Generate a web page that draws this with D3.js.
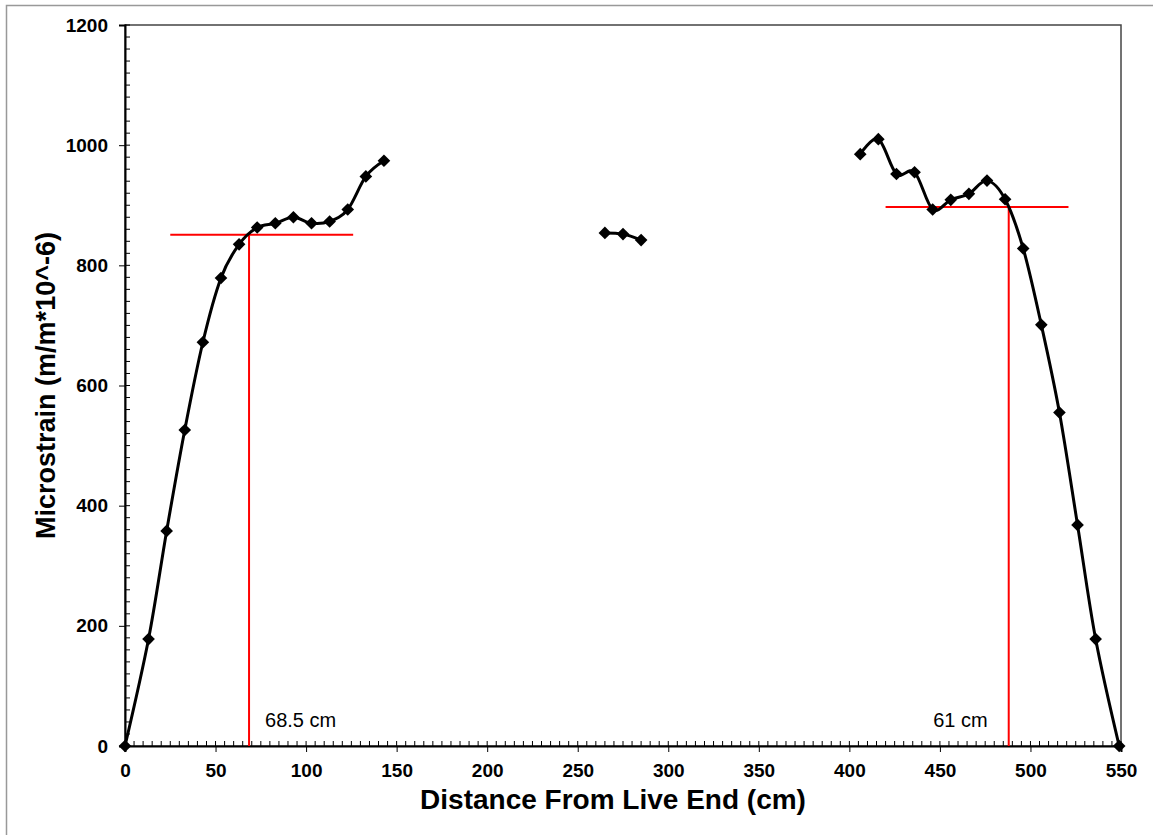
<!DOCTYPE html>
<html>
<head>
<meta charset="utf-8">
<script src="https://cdn.jsdelivr.net/npm/d3@7"></script>
<style>
  html, body { margin: 0; padding: 0; background: #fff; }
  svg { display: block; font-family: "Liberation Sans", Arial, sans-serif; }
</style>
</head>
<body>
<svg id="chart" width="1153" height="835"></svg>
<script>
// --- data ---
const leftX  = [0, 13, 23, 33, 43, 53, 63, 73, 83, 93, 103, 113, 123, 133, 143];
const leftY  = [0, 178, 358, 526, 672, 779, 835, 863, 870, 880, 870, 873, 893, 948, 974];
const midX   = [265, 275, 285];
const midY   = [854, 852, 842];
const rightX = [406, 416, 426, 436, 446, 456, 466, 476, 486, 496, 506, 516, 526, 536, 549];
const rightY = [985, 1010, 952, 955, 893, 909, 919, 941, 910, 828, 701, 555, 368, 178, 0];

const xTicks = [0, 50, 100, 150, 200, 250, 300, 350, 400, 450, 500, 550];
const yTicks = [0, 200, 400, 600, 800, 1000, 1200];

// red transfer-length guides
const guideLeft  = { x: 68.5, y: 851, h0: 25, h1: 126, label: '68.5 cm' };
const guideRight = { x: 488, y: 897, h0: 420, h1: 521, label: '61 cm' };

const svg = d3.select('#chart');
const M = { left: 125, right: 1121, top: 25, bottom: 746 };

const x = d3.scaleLinear().domain([0, 550]).range([M.left, M.right]);
const y = d3.scaleLinear().domain([0, 1200]).range([M.bottom, M.top]);

// outer chart frame
svg.append('rect')
  .attr('x', 6.5).attr('y', 5.5).attr('width', 1160).attr('height', 850)
  .attr('fill', 'none').attr('stroke', '#999').attr('stroke-width', 1.5);

// plot area border
svg.append('rect')
  .attr('x', M.left).attr('y', M.top)
  .attr('width', M.right - M.left).attr('height', M.bottom - M.top)
  .attr('fill', 'none').attr('stroke', '#444').attr('stroke-width', 1.5);

// minor ticks (inside)
const g = svg.append('g');
g.selectAll('line.xminor')
  .data(d3.range(0, 551, 5))
  .join('line')
  .attr('x1', d => x(d)).attr('x2', d => x(d))
  .attr('y1', M.bottom).attr('y2', M.bottom - 5)
  .attr('stroke', '#000').attr('stroke-width', 1);
g.selectAll('line.yminor')
  .data(d3.range(0, 1201, 20))
  .join('line')
  .attr('x1', M.left).attr('x2', M.left + 5)
  .attr('y1', d => y(d)).attr('y2', d => y(d))
  .attr('stroke', '#000').attr('stroke-width', 1);

// axes
const xAxis = svg.append('g')
  .attr('transform', `translate(0,${M.bottom})`)
  .call(d3.axisBottom(x).tickValues(xTicks).tickSize(6).tickPadding(12).tickFormat(d3.format('d')));
const yAxis = svg.append('g')
  .attr('transform', `translate(${M.left},0)`)
  .call(d3.axisLeft(y).tickValues(yTicks).tickSize(6).tickPadding(11).tickFormat(d3.format('d')));

[xAxis, yAxis].forEach(a => {
  a.select('.domain').attr('stroke', '#000').attr('stroke-width', 2);
  a.selectAll('.tick line').attr('stroke', '#000').attr('stroke-width', 1);
  a.selectAll('.tick text')
    .attr('fill', '#000')
    .style('font-family', '"Liberation Sans", Arial, sans-serif')
    .style('font-size', '19px')
    .style('font-weight', 'bold');
});

// axis titles
svg.append('text')
  .attr('x', 613).attr('y', 809)
  .attr('text-anchor', 'middle')
  .style('font-size', '28px').style('font-weight', 'bold')
  .text('Distance From Live End (cm)');
svg.append('text')
  .attr('transform', `translate(55,${(M.top + M.bottom) / 2}) rotate(-90)`)
  .attr('text-anchor', 'middle')
  .style('font-size', '27px').style('font-weight', 'bold')
  .text('Microstrain (m/m*10^-6)');

// red guides
[guideLeft, guideRight].forEach(gd => {
  svg.append('line')
    .attr('x1', x(gd.h0)).attr('x2', x(gd.h1))
    .attr('y1', y(gd.y)).attr('y2', y(gd.y))
    .attr('stroke', '#ff0000').attr('stroke-width', 2);
  svg.append('line')
    .attr('x1', x(gd.x)).attr('x2', x(gd.x))
    .attr('y1', y(gd.y)).attr('y2', y(0))
    .attr('stroke', '#ff0000').attr('stroke-width', 2);
});
svg.append('text')
  .attr('x', x(guideLeft.x) + 16).attr('y', 727)
  .style('font-size', '20px').text(guideLeft.label);
svg.append('text')
  .attr('x', x(guideRight.x) - 21).attr('y', 727)
  .attr('text-anchor', 'end')
  .style('font-size', '20px').text(guideRight.label);

// data series: smoothed line + diamond markers
const series = [
  d3.zip(leftX, leftY),
  d3.zip(midX, midY),
  d3.zip(rightX, rightY)
];
const line = d3.line()
  .x(d => x(d[0])).y(d => y(d[1]))
  .curve(d3.curveCardinal.tension(0));
const diamond = d3.symbol().type(d3.symbolSquare).size(80);

series.forEach(pts => {
  svg.append('path')
    .datum(pts)
    .attr('d', line)
    .attr('fill', 'none').attr('stroke', '#000').attr('stroke-width', 3);
  svg.append('g').selectAll('path')
    .data(pts)
    .join('path')
    .attr('transform', d => `translate(${x(d[0])},${y(d[1])}) rotate(45)`)
    .attr('d', diamond)
    .attr('fill', '#000');
});
</script>
</body>
</html>
